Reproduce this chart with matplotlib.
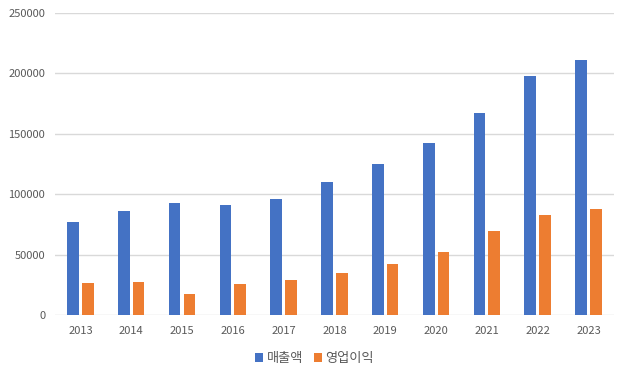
import matplotlib.pyplot as plt
import numpy as np

plt.rcParams['font.family'] = ['Noto Sans CJK KR', 'DejaVu Sans']

years = ['2013', '2014', '2015', '2016', '2017', '2018', '2019', '2020', '2021', '2022', '2023']
sales = [77000, 86200, 92800, 91200, 96100, 110200, 125100, 142500, 167400, 198000, 211300]
profit = [26500, 27300, 17400, 25700, 29000, 34800, 42300, 52200, 69600, 82900, 87800]

fig = plt.figure(figsize=(6.29, 3.77), dpi=100)
ax = fig.add_axes([0.0874, 0.1645, 0.8886, 0.801])

x = np.arange(len(years))
w = 0.23
ax.bar(x - 0.145, sales, w, color='#4472c4', label='매출액', zorder=2)
ax.bar(x + 0.145, profit, w, color='#ed7d31', label='영업이익', zorder=2)

ax.set_xlim(-0.5, len(years) - 0.5)
ax.set_ylim(0, 250000)
ax.set_yticks(range(0, 250001, 50000))
ax.set_xticks(x)
ax.set_xticklabels(years)
ax.grid(axis='y', color='#d9d9d9', linewidth=1, zorder=0)
for s in ax.spines.values():
    s.set_visible(False)
ax.tick_params(length=0, labelsize=8, colors='#595959')
ax.tick_params(axis='y', pad=7)
ax.tick_params(axis='x', pad=8)

fig.legend(loc='lower center', bbox_to_anchor=(0.5, 0.0), ncol=2, frameon=False,
           fontsize=9.5, labelcolor='#595959', handlelength=0.6, handleheight=0.6,
           handletextpad=0.3, columnspacing=0.8)

fig.savefig('out.png', dpi=100)
